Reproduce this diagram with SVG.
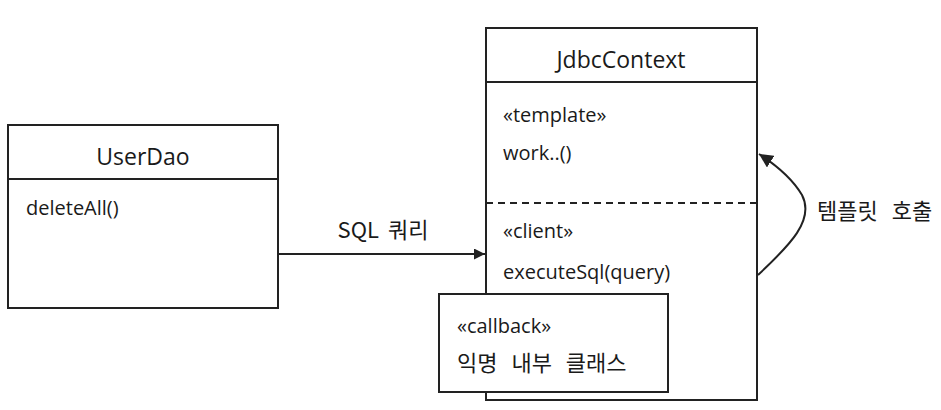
<svg xmlns="http://www.w3.org/2000/svg" width="941" height="410" viewBox="0 0 941 410">
<style>
.box{fill:#fff;stroke:#222;stroke-width:2}
.ln{stroke:#222;stroke-width:2;fill:none}
.t{font-family:"Open Sans","Noto Sans CJK KR",sans-serif;fill:#1a1a1a}
.title{font-size:23px;text-anchor:middle}
.m{font-size:20px}
.ko{font-family:"Noto Sans CJK KR","Open Sans",sans-serif;fill:#1a1a1a;font-size:22px;word-spacing:9px}
</style>
<defs>
<marker id="ah" viewBox="0 0 10 10" refX="10" refY="5" markerWidth="11" markerHeight="11" markerUnits="userSpaceOnUse" orient="auto">
<path d="M0,0 L10,5 L0,10 z" fill="#222"/>
</marker>
<marker id="ah2" viewBox="0 0 12 12" refX="12" refY="6" markerWidth="14" markerHeight="14" markerUnits="userSpaceOnUse" orient="auto">
<path d="M0,0 L12,6 L0,12 z" fill="#222"/>
</marker>
</defs>
<g id="UserDao">
<rect class="box" x="8" y="125" width="270" height="183"/>
<line class="ln" x1="8" y1="179" x2="278" y2="179"/>
<text class="t title" x="143" y="165">UserDao</text>
<text class="t m" x="26" y="215">deleteAll()</text>
</g>
<g id="JdbcContext">
<rect class="box" x="486" y="28" width="271" height="372"/>
<line class="ln" x1="486" y1="82" x2="757" y2="82"/>
<line class="ln" x1="486" y1="203" x2="757" y2="203" stroke-dasharray="7,5"/>
<text class="t title" x="621" y="68">JdbcContext</text>
<text class="t m" x="503" y="122">«template»</text>
<text class="t m" x="503" y="160">work..()</text>
<text class="t m" x="503" y="238">«client»</text>
<text class="t m" x="503" y="279">executeSql(query)</text>
</g>
<g id="Callback">
<rect class="box" x="439" y="294" width="229" height="98"/>
<text class="t m" x="457" y="333">«callback»</text>
<text class="ko" x="457" y="371">익명 내부 클래스</text>
</g>
<g id="connectors">
<line class="ln" x1="278" y1="254" x2="485" y2="254" marker-end="url(#ah)"/>
<path class="ln" d="M758,275 C790,245 815,220 802,195 C792,178 776,165 759,154" marker-end="url(#ah2)"/>
<text class="ko" x="383" y="238" text-anchor="middle" style="word-spacing:4px">SQL 쿼리</text>
<text class="ko" x="817" y="219">템플릿 호출</text>
</g>
</svg>
